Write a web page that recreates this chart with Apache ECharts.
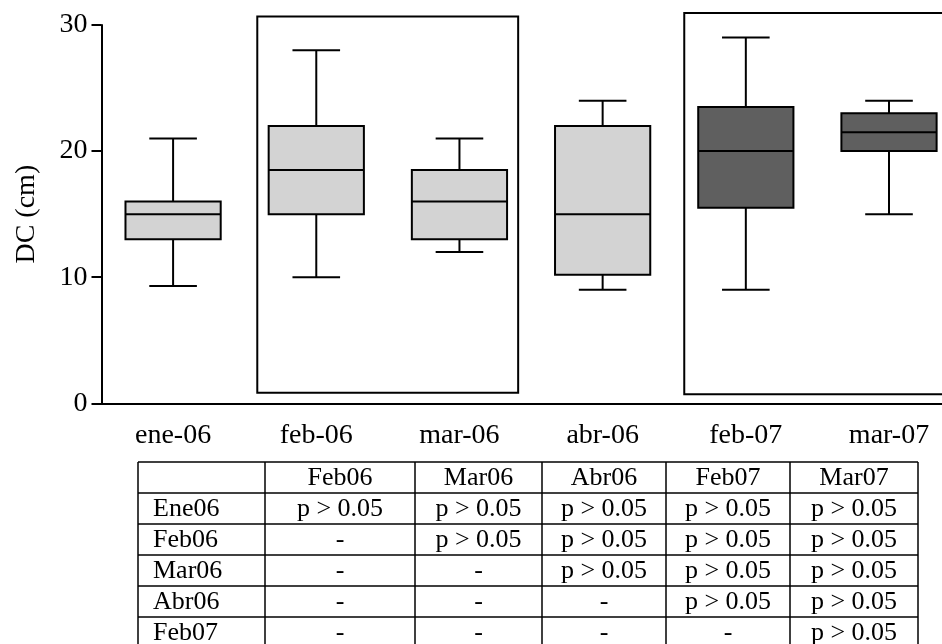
<!DOCTYPE html>
<html>
<head>
<meta charset="utf-8">
<script src="https://cdn.jsdelivr.net/npm/echarts@6/dist/echarts.min.js"></script>
<style>
  html, body { margin: 0; padding: 0; background: #fff; }
  #chart { width: 942px; height: 644px; }
</style>
</head>
<body>
<div id="chart"></div>
<script>
// Diameter (cm) per sampling month: whiskers, quartiles and median
const months      = ['ene-06', 'feb-06', 'mar-06', 'abr-06', 'feb-07', 'mar-07'];
const whiskerLow  = [9.3, 10, 12, 9, 9, 15];
const quartile1   = [13, 15, 13, 10.2, 15.5, 20];
const medians     = [15, 18.5, 16, 15, 20, 21.5];
const quartile3   = [16, 22, 18.5, 22, 23.5, 23];
const whiskerHigh = [21, 28, 21, 24, 29, 24];
const yTicks      = [0, 10, 20, 30];

// Months grouped inside a frame
const groupedMonths = [['feb-06', 'mar-06'], ['feb-07', 'mar-07']];

// Pairwise comparison table
const tableCols = ['Feb06', 'Mar06', 'Abr06', 'Feb07', 'Mar07'];
const tableRows = ['Ene06', 'Feb06', 'Mar06', 'Abr06', 'Feb07'];
const tableCells = [
  ['p > 0.05', 'p > 0.05', 'p > 0.05', 'p > 0.05', 'p > 0.05'],
  ['-',        'p > 0.05', 'p > 0.05', 'p > 0.05', 'p > 0.05'],
  ['-',        '-',        'p > 0.05', 'p > 0.05', 'p > 0.05'],
  ['-',        '-',        '-',        'p > 0.05', 'p > 0.05'],
  ['-',        '-',        '-',        '-',        'p > 0.05']
];

const FONT = '"Liberation Serif", "Times New Roman", serif';
const INK = '#000';
const AXIS_FONT = 28;

const boxData = months.map((m, i) =>
  [i, whiskerLow[i], quartile1[i], medians[i], quartile3[i], whiskerHigh[i]]);

// frame extents (band fraction beside the boxes, value range covered)
const frameLayout = [
  { padL: 0.412, padR: 0.41, top: 30.68, bottom: 0.84 },
  { padL: 0.43,  padR: 0.43, top: 30.95, bottom: 0.71 }
];
const frameData = groupedMonths.map(g => [months.indexOf(g[0]), months.indexOf(g[1])]);

function renderBox(params, api) {
  const i = api.value(0);
  const lo = api.coord([i, api.value(1)]);
  const q1 = api.coord([i, api.value(2)]);
  const md = api.coord([i, api.value(3)]);
  const q3 = api.coord([i, api.value(4)]);
  const hi = api.coord([i, api.value(5)]);
  const band = api.size([1, 0])[0];
  const w = band * 0.665;
  const x = lo[0];
  const cap = w / 4;
  const fill = /-07$/.test(months[i]) ? '#5f5f5f' : '#d3d3d3';
  const ls = { stroke: INK, lineWidth: 2 };
  return {
    type: 'group',
    children: [
      { type: 'line', shape: { x1: x, y1: hi[1], x2: x, y2: q3[1] }, style: ls },
      { type: 'line', shape: { x1: x, y1: q1[1], x2: x, y2: lo[1] }, style: ls },
      { type: 'line', shape: { x1: x - cap, y1: hi[1], x2: x + cap, y2: hi[1] }, style: ls },
      { type: 'line', shape: { x1: x - cap, y1: lo[1], x2: x + cap, y2: lo[1] }, style: ls },
      { type: 'rect', shape: { x: x - w / 2, y: q3[1], width: w, height: q1[1] - q3[1] },
        style: { fill: fill, stroke: INK, lineWidth: 2 } },
      { type: 'line', shape: { x1: x - w / 2, y1: md[1], x2: x + w / 2, y2: md[1] }, style: ls }
    ]
  };
}

function renderFrame(params, api) {
  const lay = frameLayout[params.dataIndex];
  const band = api.size([1, 0])[0];
  const a = api.coord([api.value(0), lay.top]);
  const b = api.coord([api.value(1), lay.bottom]);
  const x1 = a[0] - band * lay.padL;
  const x2 = b[0] + band * lay.padR;
  return {
    type: 'rect',
    shape: { x: x1, y: a[1], width: x2 - x1, height: b[1] - a[1] },
    style: { fill: 'none', stroke: INK, lineWidth: 2 },
    z2: 0
  };
}

// Table drawn as graphic elements
const colEdges = [138, 265, 415, 542, 666, 790, 918];
const rowTop = 462;
const rowH = 31;
const tableFont = 26;
const tableGraphics = [];
const nLines = tableRows.length + 1;
for (let r = 0; r <= nLines; r++) {
  tableGraphics.push({
    type: 'line',
    shape: { x1: colEdges[0], y1: rowTop + r * rowH, x2: colEdges[colEdges.length - 1], y2: rowTop + r * rowH },
    style: { stroke: INK, lineWidth: 1.5 }
  });
}
colEdges.forEach(x => {
  tableGraphics.push({
    type: 'line',
    shape: { x1: x, y1: rowTop, x2: x, y2: rowTop + nLines * rowH },
    style: { stroke: INK, lineWidth: 1.5 }
  });
});
function cellText(text, x, y, align) {
  return {
    type: 'text',
    x: x, y: y,
    style: { text: text, fill: INK, font: tableFont + 'px ' + FONT, align: align, verticalAlign: 'middle' }
  };
}
tableCols.forEach((c, j) => {
  tableGraphics.push(cellText(c, (colEdges[j + 1] + colEdges[j + 2]) / 2, rowTop + rowH / 2 + 1, 'center'));
});
tableRows.forEach((rName, i) => {
  const yc = rowTop + (i + 1) * rowH + rowH / 2 + 1;
  tableGraphics.push(cellText(rName, colEdges[0] + 15, yc, 'left'));
  tableCells[i].forEach((v, j) => {
    tableGraphics.push(cellText(v, (colEdges[j + 1] + colEdges[j + 2]) / 2, yc, 'center'));
  });
});

const chart = echarts.init(document.getElementById('chart'), null, { renderer: 'canvas' });
chart.setOption({
  animation: false,
  backgroundColor: '#fff',
  grid: {
    left: 101.5, right: -18.6, top: 25, bottom: 240.7,
    containLabel: false,
    outerBoundsMode: 'none'
  },
  xAxis: {
    type: 'category',
    data: months,
    boundaryGap: true,
    axisLine: { show: true, lineStyle: { color: INK, width: 2 } },
    axisTick: { show: false },
    axisLabel: { color: INK, fontSize: AXIS_FONT, fontFamily: FONT, margin: 18 },
    splitLine: { show: false }
  },
  yAxis: {
    type: 'value',
    min: yTicks[0],
    max: yTicks[yTicks.length - 1],
    interval: yTicks[1] - yTicks[0],
    name: 'DC (cm)',
    nameLocation: 'middle',
    nameGap: 61,
    nameTextStyle: { color: INK, fontSize: AXIS_FONT, fontFamily: FONT },
    axisLine: { show: true, lineStyle: { color: INK, width: 2 } },
    axisTick: { show: true, length: 10, lineStyle: { color: INK, width: 2 } },
    axisLabel: { color: INK, fontSize: AXIS_FONT, fontFamily: FONT, margin: 14 },
    splitLine: { show: false }
  },
  series: [
    {
      type: 'custom',
      name: 'frames',
      renderItem: renderFrame,
      data: frameData,
      encode: { x: [0, 1] },
      clip: false,
      silent: true,
      z: 1
    },
    {
      type: 'custom',
      name: 'DC',
      renderItem: renderBox,
      data: boxData,
      encode: { x: 0, y: [1, 2, 3, 4, 5] },
      clip: false,
      z: 2
    }
  ],
  graphic: tableGraphics
});
</script>
</body>
</html>
